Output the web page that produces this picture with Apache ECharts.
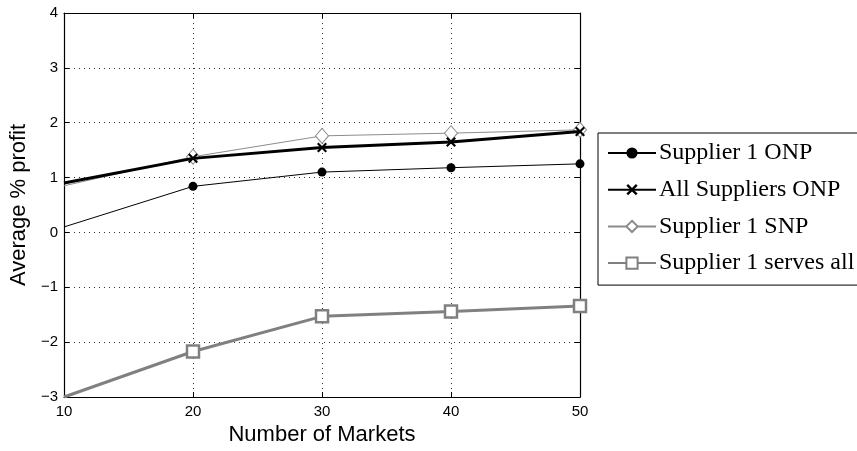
<!DOCTYPE html>
<html>
<head>
<meta charset="utf-8">
<script src="https://cdn.jsdelivr.net/npm/echarts@6/dist/echarts.min.js"></script>
<style>html,body{margin:0;padding:0;background:#fff;}#c{width:857px;height:451px;}</style>
</head>
<body>
<div id="c"></div>
<script>
var markets = [10, 20, 30, 40, 50];
var supplier1ONP = [0.1, 0.84, 1.1, 1.18, 1.25];
var allSuppliersONP = [0.9, 1.35, 1.55, 1.65, 1.84];
var supplier1SNP = [0.85, 1.38, 1.76, 1.81, 1.87];
var supplier1ServesAll = [-3, -2.17, -1.53, -1.44, -1.34];
var yTicks = [-3, -2, -1, 0, 1, 2, 3, 4];
var seriesNames = ['Supplier 1 ONP', 'All Suppliers ONP', 'Supplier 1 SNP', 'Supplier 1 serves all'];

function pts(vals) {
  return markets.map(function (m, i) {
    var d = { value: [m, vals[i]] };
    if (i === 0) { d.symbol = 'none'; }
    return d;
  });
}
var xPath = 'path://M0,1.5L1.5,0L5,3.5L8.5,0L10,1.5L6.5,5L10,8.5L8.5,10L5,6.5L1.5,10L0,8.5L3.5,5Z';

var chart = echarts.init(document.getElementById('c'), null, { renderer: 'canvas' });
var sans = 'Liberation Sans';
var tickStyle = { show: true, inside: true, length: 5, lineStyle: { color: '#000' } };
var lineAx = { show: true, onZero: false, lineStyle: { color: '#000', width: 1.2 } };
chart.setOption({
  animation: false,
  backgroundColor: '#fff',
  grid: { left: 63, right: 277, top: 13, bottom: 49, show: false },
  legend: {
    orient: 'vertical', left: 598, top: 133,
    borderColor: '#000', borderWidth: 1, padding: [8, 20, 10, 9],
    itemWidth: 48, itemHeight: 14, itemGap: 12.7,
    textStyle: { fontFamily: 'Liberation Serif', fontSize: 24, lineHeight: 24, color: '#000', padding: [0, 0, 0, -2] },
    data: seriesNames
  },
  xAxis: [{
    type: 'value', min: 10, max: 50, interval: 10,
    name: 'Number of Markets', nameLocation: 'middle', nameGap: 27,
    nameTextStyle: { fontFamily: sans, fontSize: 22, color: '#000' },
    axisLine: lineAx,
    axisTick: tickStyle,
    axisLabel: { fontFamily: sans, fontSize: 15, color: '#000', margin: 7 },
    splitLine: { show: true, lineStyle: { color: '#333', type: [1, 4], width: 1 } }
  }, {
    type: 'value', min: 10, max: 50, interval: 10, position: 'top',
    axisLine: lineAx, axisTick: tickStyle,
    axisLabel: { show: false }, splitLine: { show: false }
  }],
  yAxis: [{
    type: 'value', min: -3, max: 4, interval: 1,
    name: 'Average % profit', nameLocation: 'middle', nameGap: 27,
    nameTextStyle: { fontFamily: sans, fontSize: 22, color: '#000' },
    axisLine: lineAx,
    axisTick: tickStyle,
    axisLabel: { fontFamily: sans, fontSize: 15, color: '#000', margin: 6,
      formatter: function (v) { return v < 0 ? '\u2212' + Math.abs(v) : String(v); } },
    splitLine: { show: true, lineStyle: { color: '#333', type: [1, 4], width: 1 } }
  }, {
    type: 'value', min: -3, max: 4, interval: 1, position: 'right',
    axisLine: lineAx, axisTick: tickStyle,
    axisLabel: { show: false }, splitLine: { show: false }
  }],
  series: [
    {
      name: seriesNames[0], type: 'line', data: pts(supplier1ONP),
      symbol: 'circle', symbolSize: 9, z: 4,
      lineStyle: { color: '#000', width: 1 },
      itemStyle: { color: '#000', borderColor: '#000', borderWidth: 0 }
    },
    {
      name: seriesNames[1], type: 'line', data: pts(allSuppliersONP),
      symbol: xPath, symbolSize: 10, z: 5,
      lineStyle: { color: '#000', width: 3 },
      itemStyle: { color: '#000', borderWidth: 0 }
    },
    {
      name: seriesNames[2], type: 'line', data: pts(supplier1SNP),
      symbol: 'diamond', symbolSize: [13, 15], z: 3,
      lineStyle: { color: '#8c8c8c', width: 1 },
      itemStyle: { color: '#fff', borderColor: '#8c8c8c', borderWidth: 1 }
    },
    {
      name: seriesNames[3], type: 'line', data: pts(supplier1ServesAll),
      symbol: 'rect', symbolSize: 12, z: 3,
      lineStyle: { color: '#808080', width: 3 },
      itemStyle: { color: '#fff', borderColor: '#808080', borderWidth: 2.5 }
    }
  ]
});
</script>
</body>
</html>
